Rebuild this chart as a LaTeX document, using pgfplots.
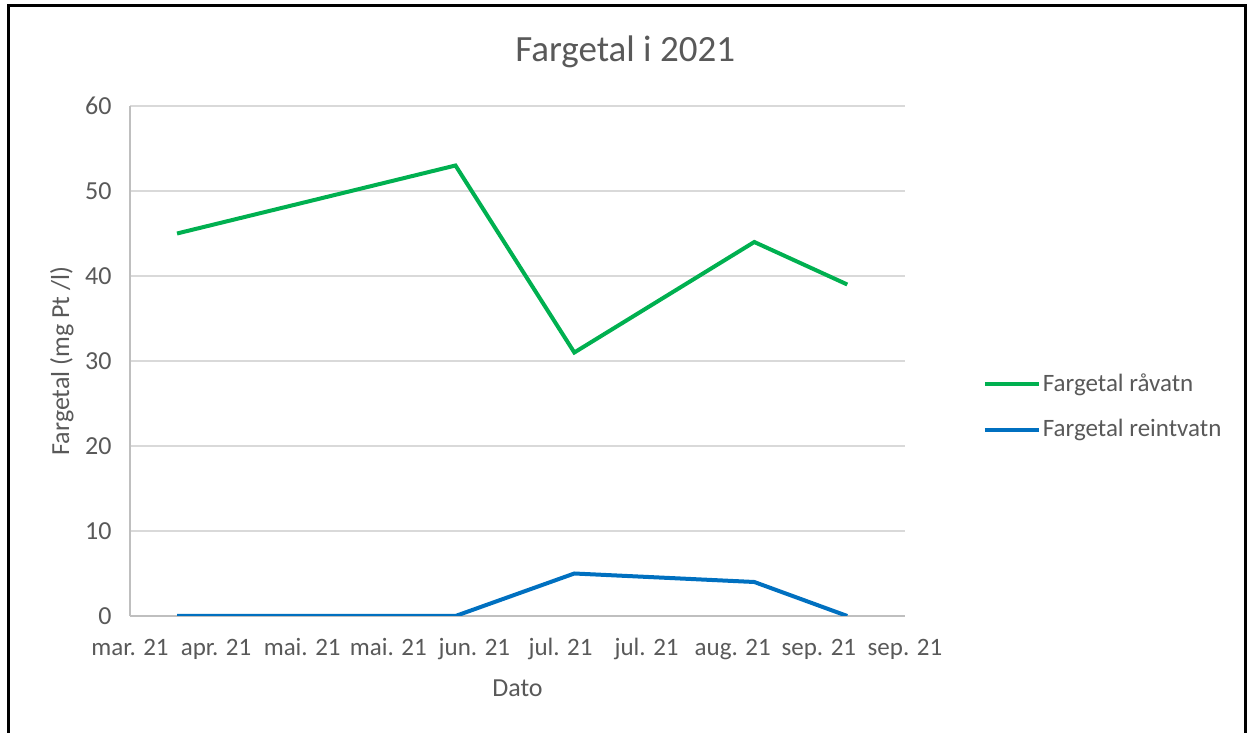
\documentclass[border=0pt]{standalone}
\usepackage{pgfplots}
\pgfplotsset{compat=1.18}
\usepackage{fontspec}
\setmainfont{Carlito}
\definecolor{txt}{HTML}{595959}
\definecolor{grd}{HTML}{D9D9D9}
\definecolor{axl}{HTML}{BFBFBF}
\definecolor{raa}{HTML}{00B050}
\definecolor{rein}{HTML}{0070C0}
\begin{document}
\begin{tikzpicture}
\path[use as bounding box] (0pt,0pt) rectangle (624pt,366.5pt);
\draw[line width=1.5pt] (4pt,-2pt) -- (4pt,363.5pt) -- (622.5pt,363.5pt) -- (622.5pt,-2pt);
\begin{axis}[
  at={(65pt,58.5pt)}, anchor=south west,
  width=387.5pt, height=255pt, scale only axis,
  xmin=0, xmax=9, ymin=0, ymax=60,
  xtick={0,...,9},
  xticklabels={mar. 21, apr. 21, mai. 21, mai. 21, jun. 21, jul. 21, jul. 21, aug. 21, sep. 21, sep. 21},
  ytick={0,10,...,60},
  major tick length=0pt,
  ymajorgrids, grid style={grd, line width=0.75pt},
  axis x line*=bottom, axis y line*=left,
  axis line style={axl, line width=0.75pt, -},
  tick label style={font=\fontsize{13}{15}\selectfont, text=txt},
  /pgf/number format/assume math mode=true,
  xticklabel style={anchor=base, inner sep=0pt, yshift=-20pt, font=\fontsize{12.5}{15}\selectfont},
  yticklabel style={anchor=east, inner sep=0pt, xshift=-9pt},
  title={Fargetal i 2021},
  title style={at={(axis description cs:0.639,1.083)}, anchor=center, font=\fontsize{18.5}{21}\selectfont, text=txt},
  xlabel={Dato},
  xlabel style={at={(axis description cs:0.5,-0.141)}, anchor=center, font=\fontsize{13}{15}\selectfont, text=txt},
  ylabel={Fargetal (mg Pt /l)},
  ylabel style={at={(axis description cs:-0.088,0.5)}, anchor=center, rotate=0, font=\fontsize{13}{15}\selectfont, text=txt},
  legend style={at={(rel axis cs:1.10,0.41)}, anchor=west, draw=none, fill=none,
    font=\fontsize{12.5}{15}\selectfont, text=txt, row sep=10.5pt, inner sep=0pt,
    nodes={inner sep=1pt, anchor=west}},
  legend cell align=left,
  legend image code/.code={\draw[#1, line width=2pt] (0pt,0pt) -- (27pt,0pt);},
]
\addplot[raa, line width=2pt] coordinates {(0.546,45) (3.78,53) (5.16,31) (7.25,44) (8.33,39)};
\addlegendentry{Fargetal råvatn}
\addplot[rein, line width=2pt] coordinates {(0.546,0) (3.78,0) (5.16,5) (7.25,4) (8.33,0)};
\addlegendentry{Fargetal reintvatn}
\end{axis}
\end{tikzpicture}
\end{document}
